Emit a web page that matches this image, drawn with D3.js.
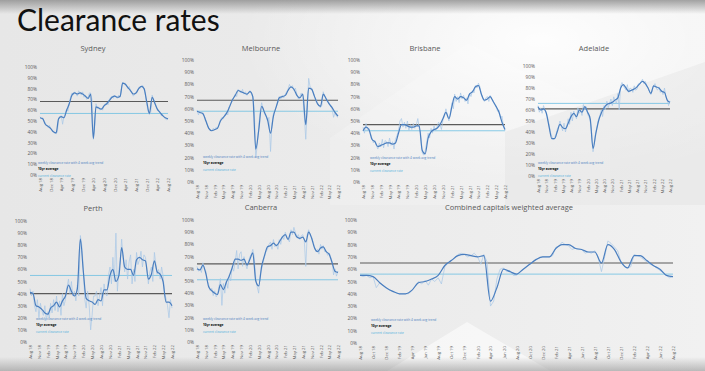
<!DOCTYPE html>
<html>
<head>
<meta charset="utf-8">
<script src="https://cdn.jsdelivr.net/npm/d3@7"></script>
<style>
html, body { margin: 0; padding: 0; background: #ebebeb; }
svg { display: block; }
</style>
</head>
<body>
<svg id="slide"></svg>
<script>
const W = 705, H = 371;

// tick labels
const ticks4 = ["Aug 18","Dec 18","Apr 19","Aug 19","Dec 19","Apr 20","Aug 20","Dec 20","Apr 21","Aug 21","Dec 21","Apr 22","Aug 22"];
const ticks3 = ["Aug 18","Nov 18","Feb 19","May 19","Aug 19","Nov 19","Feb 20","May 20","Aug 20","Nov 20","Feb 21","May 21","Aug 21","Nov 21","Feb 22","May 22","Aug 22"];
const ticks2 = ["Aug 18","Oct 18","Dec 18","Feb 19","Apr 19","Jun 19","Aug 19","Oct 19","Dec 19","Feb 20","Apr 20","Jun 20","Aug 20","Oct 20","Dec 20","Feb 21","Apr 21","Jun 21","Aug 21","Oct 21","Dec 21","Feb 22","Apr 22","Jun 22","Aug 22"];
const yTicks = [0, 10, 20, 30, 40, 50, 60, 70, 80, 90, 100];

// 4 week trend, one value per month, Aug 18 .. Aug 22
const sydneyTrend = [53,52,47,45,43,40,39,52,54,53, 60,66,74,76,75,76,75,73,71,75, 34,63,62,61,64,66,69,72,73,72, 73,85,84,81,78,75,76,80,82,80, 68,57,72,67,61,58,55,53,52];
const melbourneTrend = [58,57,56,50,44,42,43,44,50,53, 56,61,67,71,75,74,73,72,74,70, 27,42,62,57,51,40,54,62,69,70, 71,75,78,76,71,69,72,47,77,76, 70,64,62,72,68,64,61,57,54];
const brisbaneTrend = [42,45,43,35,33,29,30,31,32,32, 31,32,40,47,47,46,45,45,46,46, 26,23,36,41,43,44,47,52,57,52, 62,70,68,70,69,67,72,74,78,79, 72,67,68,70,66,62,57,49,43];
const adelaideTrend = [63,60,61,57,45,34,34,40,47,44, 43,48,54,57,54,60,58,63,58,52, 25,38,50,57,62,65,66,67,69,71, 80,83,80,77,78,79,81,84,86,84, 80,75,82,81,80,77,76,69,67];
const perthTrend = [41,40,30,29,27,24,23,28,30,33, 29,34,38,47,42,38,44,85,58,36, 34,33,31,35,34,43,43,55,60,50, 55,78,62,60,60,55,68,70,68,67, 52,56,67,58,56,50,33,33,30];
const canberraTrend = [60,59,63,56,45,42,40,39,47,43, 49,54,61,68,68,67,68,63,68,73, 50,46,62,71,78,79,81,79,82,86, 88,84,90,90,86,85,86,82,90,85, 77,74,77,78,74,72,65,58,57];
const combinedTrend = [55,55,54,49,45,42,40,40,43,49, 50,52,55,63,67,71,72,71,70,71, 34,45,60,58,56,60,64,68,70,70, 77,80,80,77,76,74,74,65,80,76, 66,61,71,71,67,63,60,55,54];

// weekly clearance rate, two readings per month (1st and 16th)
const sydneyWeekly = [54,52,53,50,48,46,44,46,43,42, 40,39,38,40,53,54,55,47,54,56, 61,59,67,72,76,74,77,75,73,78, 76,74,77,72,74,70,72,76,76,70, 33,45,66,62,63,60,62,60,64,66, 67,65,70,72,73,71,74,72,71,74, 72,80,86,84,85,82,80,82,77,76, 73,75,76,78,81,80,82,83,79,74, 66,59,56,58,74,70,68,64,61,59, 58,55,56,54,52,51,53];
const melbourneWeekly = [59,55,58,56,57,54,51,47,44,43, 42,44,43,45,44,47,51,53,52,55, 57,55,62,64,66,69,72,70,76,74, 73,76,72,74,71,73,75,72,70,60, 20,30,45,58,65,60,56,54,50,53, 25,48,56,58,63,65,70,68,71,69, 72,74,76,80,77,79,75,77,72,68, 70,73,71,55,35,60,85,78,77,74, 70,68,65,62,61,63,74,70,69,66, 65,62,60,53,57,54,53];
const brisbaneWeekly = [45,40,48,42,44,40,36,32,34,30, 27,32,29,35,28,34,33,29,36,30, 33,27,35,38,42,50,52,45,49,44, 50,42,47,43,48,44,47,52,44,40, 24,22,25,32,40,36,44,40,46,42, 45,49,47,43,51,54,60,55,50,56, 65,60,72,66,70,65,73,68,71,66, 69,64,73,70,75,73,79,77,81,78, 72,68,66,69,70,66,71,68,67,63, 62,58,59,52,54,46,42];
const adelaideWeekly = [64,58,62,57,64,60,58,52,47,40, 36,33,35,38,42,45,50,45,41,48, 40,45,52,47,58,50,59,55,52,62, 57,60,55,65,60,63,56,54,50,40, 22,30,40,45,52,55,60,54,64,60, 68,62,66,70,64,72,68,66,75,60, 82,85,82,80,78,83,76,80,79,76, 82,78,79,84,83,86,88,84,86,82, 80,77,74,78,82,84,80,78,81,76, 78,74,80,72,70,64,68];
const perthWeekly = [44,38,42,30,25,35,20,32,26,22, 30,18,25,20,32,24,35,26,38,25, 34,22,40,30,35,45,52,40,50,38, 42,34,47,38,88,80,60,35,28,42, 30,10,22,38,38,42,30,38,45,30, 48,40,38,55,62,48,70,50,90,42, 60,68,85,70,58,68,52,66,72,48, 60,50,74,64,68,75,62,72,70,60, 48,58,62,50,74,64,56,60,52,62, 55,40,36,30,20,35,28];
const canberraWeekly = [62,58,60,57,65,60,58,50,47,42, 44,38,42,37,39,45,52,30,48,40, 50,44,55,50,62,58,66,75,60,72, 74,62,70,64,60,66,70,72,76,70, 52,45,40,55,60,65,70,74,76,80, 82,76,84,78,80,76,84,80,87,84, 90,86,84,82,92,88,94,90,86,88, 84,87,88,84,62,88,92,88,86,82, 78,74,76,72,80,76,79,74,74,71, 73,70,66,55,60,54,58];
const combinedWeekly = [55,54,55,53,54,45,49,47,45,43, 42,41,40,40,40,40,43,46,50,48, 51,47,52,50,53,48,62,65,67,69, 72,73,72,70,71,73,70,64,72,66, 30,34,52,60,61,58,59,55,55,58, 60,62,64,66,68,69,70,70,70,71, 78,79,82,80,79,76,77,76,76,73, 74,73,75,70,58,70,83,81,78,75, 66,63,61,62,72,71,70,68,66,64, 63,61,59,57,55,53,54];

// 10yr average and current clearance rate
const cities = ["Sydney","Melbourne","Brisbane","Adelaide","Perth","Canberra","Combined capitals weighted average"];
const tenYearAvg = [68, 67, 47, 61, 40, 64, 65];
const currentRate = [57, 58, 42, 66, 55, 51, 56];
const legendLabels = ["weekly clearance rate with 4 week avg trend", "10yr average", "current clearance rate"];

const trends = [sydneyTrend, melbourneTrend, brisbaneTrend, adelaideTrend, perthTrend, canberraTrend, combinedTrend];
const weeklies = [sydneyWeekly, melbourneWeekly, brisbaneWeekly, adelaideWeekly, perthWeekly, canberraWeekly, combinedWeekly];
const tickSets = [ticks4, ticks3, ticks3, ticks3, ticks3, ticks3, ticks2];

// panel placement on the slide
const layout = [
  {x0: 40,  x1: 168, yb: 175, yt: 67,  tx: 93,  ty: 48,  lx: 38,  ly: 163},
  {x0: 197, x1: 338, yb: 182, yt: 60,  tx: 261, ty: 48,  lx: 203, ly: 157},
  {x0: 363, x1: 505, yb: 182, yt: 60,  tx: 425, ty: 48,  lx: 370, ly: 158},
  {x0: 538, x1: 670, yb: 176, yt: 66,  tx: 594, ty: 48,  lx: 538, ly: 163},
  {x0: 30,  x1: 172, yb: 342, yt: 221, tx: 93,  ty: 208, lx: 36,  ly: 319},
  {x0: 197, x1: 338, yb: 342, yt: 220, tx: 261, ty: 207, lx: 203, ly: 319},
  {x0: 360, x1: 673, yb: 343, yt: 220, tx: 509, ty: 207, lx: 371, ly: 320}
];

const parseTick = d3.timeParse("%b %y");
const pct = d3.format(".0%");

const svg = d3.select("#slide")
  .attr("width", W)
  .attr("height", H)
  .attr("viewBox", [0, 0, W, H]);

// ---- slide background
const defs = svg.append("defs");
const bg = defs.append("linearGradient").attr("id", "bg").attr("x1", 0).attr("x2", 1).attr("y1", 0).attr("y2", 0);
bg.append("stop").attr("offset", 0).attr("stop-color", "#e7e7e7");
bg.append("stop").attr("offset", 0.6).attr("stop-color", "#ececec");
bg.append("stop").attr("offset", 1).attr("stop-color", "#f1f1f1");
const glow = defs.append("radialGradient").attr("id", "glow");
glow.append("stop").attr("offset", 0).attr("stop-color", "#fff").attr("stop-opacity", 0.9);
glow.append("stop").attr("offset", 1).attr("stop-color", "#fff").attr("stop-opacity", 0);
const topShade = defs.append("linearGradient").attr("id", "topShade").attr("x1", 0).attr("x2", 0).attr("y1", 0).attr("y2", 1);
topShade.append("stop").attr("offset", 0).attr("stop-color", "#8c8c8c").attr("stop-opacity", 0.8);
topShade.append("stop").attr("offset", 1).attr("stop-color", "#8c8c8c").attr("stop-opacity", 0);
const botShade = defs.append("linearGradient").attr("id", "botShade").attr("x1", 0).attr("x2", 0).attr("y1", 0).attr("y2", 1);
botShade.append("stop").attr("offset", 0).attr("stop-color", "#8c8c8c").attr("stop-opacity", 0);
botShade.append("stop").attr("offset", 1).attr("stop-color", "#8c8c8c").attr("stop-opacity", 0.55);

svg.append("rect").attr("width", W).attr("height", H).attr("fill", "url(#bg)");
svg.append("ellipse").attr("cx", 540).attr("cy", 40).attr("rx", 300).attr("ry", 140).attr("fill", "url(#glow)");
svg.append("polygon").attr("points", "468,43 330,138 330,205 610,205 610,115")
  .attr("fill", "#fff").attr("opacity", 0.18);
svg.append("polygon").attr("points", "467,322 340,400 600,400")
  .attr("fill", "#fff").attr("opacity", 0.55);
svg.append("polygon").attr("points", "505,132 705,62 705,205 505,205")
  .attr("fill", "#d8d8d8").attr("opacity", 0.25);
svg.append("rect").attr("width", W).attr("height", 14).attr("fill", "url(#topShade)");
svg.append("rect").attr("y", H - 14).attr("width", W).attr("height", 14).attr("fill", "url(#botShade)");

svg.append("text")
  .attr("x", 17).attr("y", 31)
  .attr("font-family", "Lato, 'Open Sans', sans-serif")
  .attr("font-size", 30)
  .attr("fill", "#111")
  .text("Clearance rates");

// ---- the seven panels
const lineTrend = "#4a7ebf", lineWeekly = "#a8c7e6", lineAvg = "#5a5a5a", lineCurrent = "#6cbfe2";

cities.forEach((city, i) => {
  const L = layout[i];
  const g = svg.append("g");

  const x = d3.scaleTime()
    .domain([new Date(2018, 7, 1), new Date(2022, 7, 1)])
    .range([L.x0, L.x1]);
  const y = d3.scaleLinear().domain([0, 100]).range([L.yb, L.yt]);

  const trendPts = trends[i].map((v, m) => ({date: new Date(2018, 7 + m, 1), v}));
  const weeklyPts = weeklies[i].map((v, k) => ({date: new Date(2018, 7 + Math.floor(k / 2), k % 2 ? 16 : 1), v}));

  g.append("text")
    .attr("x", L.tx).attr("y", L.ty + 2.6)
    .attr("text-anchor", "middle")
    .attr("font-family", "'Open Sans', sans-serif")
    .attr("font-size", 7.5)
    .attr("fill", "#595959")
    .text(city);

  // y axis labels (no axis line)
  const yAxis = g.append("g")
    .attr("transform", `translate(${L.x0 - 1},0)`)
    .call(d3.axisLeft(y).tickValues(yTicks).tickSize(0).tickPadding(2).tickFormat(d => pct(d / 100)));
  yAxis.select(".domain").remove();
  yAxis.selectAll("text").attr("font-size", 4.8).attr("fill", "#595959").attr("font-family", "'Open Sans', sans-serif");

  // x axis labels, rotated
  const xAxis = g.append("g")
    .attr("transform", `translate(0,${L.yb + 2})`)
    .call(d3.axisBottom(x).tickValues(tickSets[i].map(parseTick)).tickSize(0).tickFormat(d3.timeFormat("%b %y")));
  xAxis.select(".domain").remove();
  xAxis.selectAll("text")
    .attr("font-size", 4.3)
    .attr("fill", "#595959")
    .attr("font-family", "'Open Sans', sans-serif")
    .attr("transform", "rotate(-90)")
    .attr("text-anchor", "end")
    .attr("x", -1)
    .attr("y", 0)
    .attr("dy", "0.35em");

  // 10yr average and current rate
  g.append("line")
    .attr("x1", x.range()[0]).attr("x2", x.range()[1])
    .attr("y1", y(tenYearAvg[i])).attr("y2", y(tenYearAvg[i]))
    .attr("stroke", lineAvg).attr("stroke-width", 1.1);
  g.append("line")
    .attr("x1", x.range()[0]).attr("x2", x.range()[1])
    .attr("y1", y(currentRate[i])).attr("y2", y(currentRate[i]))
    .attr("stroke", lineCurrent).attr("stroke-width", 0.8);

  const line = d3.line().x(d => x(d.date)).y(d => y(d.v));

  g.append("path")
    .attr("d", line(weeklyPts))
    .attr("fill", "none")
    .attr("stroke", lineWeekly)
    .attr("stroke-width", 0.7);
  g.append("path")
    .attr("d", line.curve(d3.curveMonotoneX)(trendPts))
    .attr("fill", "none")
    .attr("stroke", lineTrend)
    .attr("stroke-width", 1.2)
    .attr("stroke-linejoin", "round");

  // legend
  const legColors = [lineTrend, "#000", "#4fb0dc"];
  legendLabels.forEach((lab, j) => {
    g.append("text")
      .attr("x", L.lx).attr("y", L.ly + j * 6.2)
      .attr("dy", "0.35em")
      .attr("font-family", "'Open Sans', sans-serif")
      .attr("font-size", 3.2)
      .attr("font-weight", j === 1 ? "bold" : "normal")
      .attr("fill", legColors[j])
      .text(lab);
  });
});
</script>
</body>
</html>
